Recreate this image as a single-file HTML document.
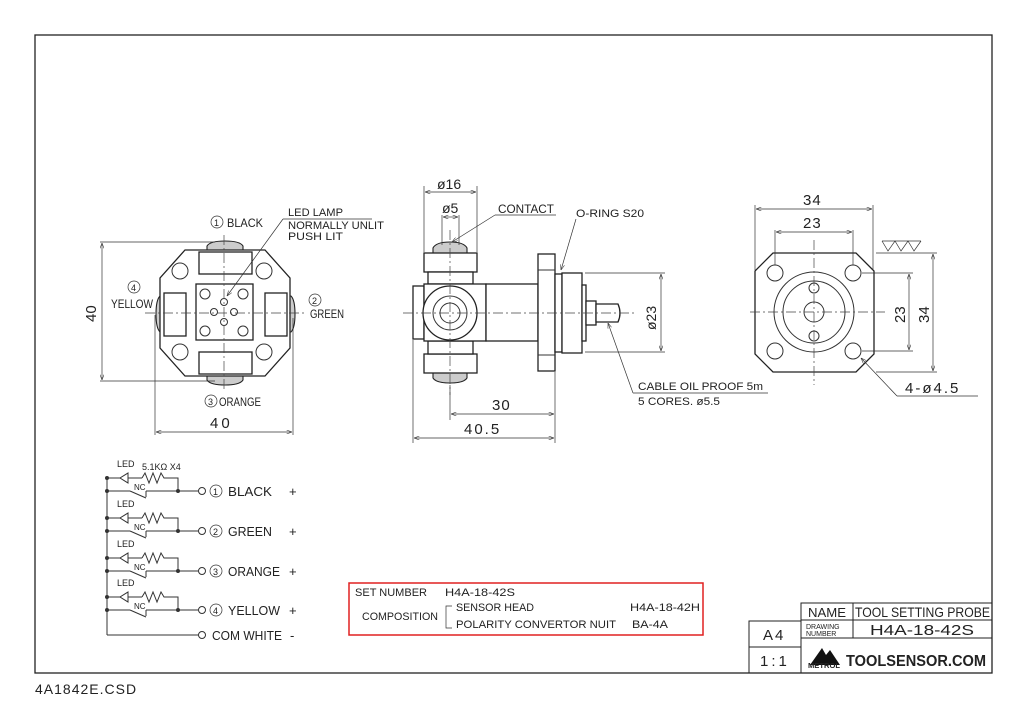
<!DOCTYPE html>
<html><head><meta charset="utf-8"><style>
html,body{margin:0;padding:0;background:#fff;}
svg{display:block;}
text{font-family:"Liberation Sans",sans-serif;fill:#222;}
.l{stroke:#333;stroke-width:1;fill:none;}
.t{stroke:#333;stroke-width:0.7;fill:none;}
.c{stroke:#444;stroke-width:0.7;fill:none;stroke-dasharray:10 3 2 3;}
.b{stroke:#222;stroke-width:1.3;fill:#fff;}
.g{stroke:#222;stroke-width:1.1;fill:#ccc;}
</style></head><body>
<svg width="1024" height="724" viewBox="0 0 1024 724" xmlns="http://www.w3.org/2000/svg">
<defs>
<marker id="a" markerWidth="8" markerHeight="6" refX="8" refY="3" orient="auto-start-reverse"><path d="M0,0 L8,3 L0,6" fill="none" stroke="#333" stroke-width="0.8"/></marker>
</defs>
<rect x="35" y="35" width="957" height="638" fill="none" stroke="#222" stroke-width="1.3"/>
<text x="35" y="694" font-size="14" letter-spacing="1">4A1842E.CSD</text>

<!-- LEFT VIEW -->
<g>
<path class="g" d="M207,251 L207,246 Q210,241 225,241 Q240,241 243,246 L243,251 Z"/>
<path class="g" d="M207,375 L207,380 Q210,385 225,385 Q240,385 243,380 L243,375 Z"/>
<path class="g" d="M164,296 L160,296 Q156,300 156,314 Q156,328 160,332 L164,332 Z"/>
<path class="g" d="M287,296 L291,296 Q295,300 295,314 Q295,328 291,332 L287,332 Z"/>
<path class="b" d="M185,250 L265,250 L290,278 L290,348 L265,376 L185,376 L160,348 L160,278 Z"/>
<rect class="b" x="199" y="252" width="53" height="22"/>
<rect class="b" x="199" y="352" width="53" height="22"/>
<rect class="b" x="164" y="293" width="22" height="43"/>
<rect class="b" x="265" y="293" width="22" height="43"/>
<rect class="b" x="196" y="284" width="57" height="56" stroke-width="2"/>
<circle class="l" cx="180" cy="271" r="8"/><circle class="l" cx="264" cy="271" r="8"/>
<circle class="l" cx="180" cy="352" r="8"/><circle class="l" cx="264" cy="352" r="8"/>
<circle class="l" cx="205" cy="294" r="5"/><circle class="l" cx="243" cy="294" r="5"/>
<circle class="l" cx="205" cy="331" r="5"/><circle class="l" cx="243" cy="331" r="5"/>
<circle class="l" cx="224" cy="302" r="3.5"/><circle class="l" cx="224" cy="322" r="3.5"/>
<circle class="l" cx="214" cy="312" r="3.5"/><circle class="l" cx="234" cy="312" r="3.5"/>
<line class="c" x1="145" y1="313" x2="305" y2="313"/>
<line class="c" x1="224" y1="235" x2="224" y2="392"/>
<line class="t" x1="100" y1="242" x2="215" y2="242"/>
<line class="t" x1="100" y1="381" x2="215" y2="381"/>
<line class="t" x1="102" y1="243" x2="102" y2="380" marker-start="url(#a)" marker-end="url(#a)"/>
<text x="0" y="0" font-size="15" transform="translate(96,322) rotate(-90)">40</text>
<line class="t" x1="155" y1="315" x2="155" y2="435"/>
<line class="t" x1="293" y1="318" x2="293" y2="435"/>
<line class="t" x1="156" y1="432" x2="292" y2="432" marker-start="url(#a)" marker-end="url(#a)"/>
<text x="210" y="428" font-size="15" letter-spacing="3">40</text>
<circle class="t" cx="217" cy="222" r="6"/><text x="214" y="226" font-size="9">1</text>
<text x="227" y="227" font-size="12" textLength="36" lengthAdjust="spacingAndGlyphs">BLACK</text>
<circle class="t" cx="134" cy="287" r="6"/><text x="131" y="291" font-size="9">4</text>
<text x="111" y="308" font-size="12" textLength="42" lengthAdjust="spacingAndGlyphs">YELLOW</text>
<circle class="t" cx="315" cy="300" r="6"/><text x="312" y="304" font-size="9">2</text>
<text x="310" y="318" font-size="12" textLength="34" lengthAdjust="spacingAndGlyphs">GREEN</text>
<circle class="t" cx="211" cy="401" r="6"/><text x="208" y="405" font-size="9">3</text>
<text x="219" y="406" font-size="12" textLength="42" lengthAdjust="spacingAndGlyphs">ORANGE</text>
<text x="288" y="216" font-size="11" textLength="55" lengthAdjust="spacingAndGlyphs">LED LAMP</text>
<line class="t" x1="283" y1="219" x2="372" y2="219"/>
<text x="288" y="229" font-size="11" textLength="96" lengthAdjust="spacingAndGlyphs">NORMALLY UNLIT</text>
<text x="288" y="240" font-size="11" textLength="55" lengthAdjust="spacingAndGlyphs">PUSH LIT</text>
<line class="t" x1="283" y1="219" x2="227" y2="296" marker-end="url(#a)"/>
</g>

<!-- MIDDLE VIEW -->
<g>
<path class="g" d="M433,253 L433,248 Q436,242 450,242 Q464,242 467,248 L467,253 Z"/>
<path class="g" d="M433,373 L433,378 Q436,383 450,383 Q464,383 467,378 L467,373 Z"/>
<rect class="b" x="413" y="286" width="11" height="53"/>
<rect class="b" x="424" y="253" width="53" height="19"/>
<rect class="b" x="428" y="272" width="45" height="12"/>
<rect class="b" x="424" y="354" width="53" height="19"/>
<rect class="b" x="428" y="341" width="45" height="13"/>
<rect class="b" x="424" y="284" width="62" height="57"/>
<circle class="b" cx="450" cy="313" r="27"/>
<circle class="l" cx="450" cy="313" r="17"/>
<circle class="l" cx="450" cy="313" r="10" stroke-width="2"/>
<rect class="b" x="486" y="284" width="52" height="57"/>
<rect class="b" x="538" y="254" width="17" height="117"/>
<line class="l" x1="538" y1="270" x2="555" y2="270"/><line class="l" x1="538" y1="355" x2="555" y2="355"/>
<rect class="b" x="555" y="274" width="7" height="78"/>
<rect class="b" x="562" y="273" width="20" height="80"/>
<rect class="b" x="582" y="285" width="4" height="56"/>
<rect class="b" x="586" y="301" width="10" height="24"/>
<path class="b" d="M596,304 L618,304 Q622,313 618,322 L596,322 Z"/>
<line class="c" x1="403" y1="313" x2="635" y2="313"/>
<line class="c" x1="450" y1="230" x2="450" y2="395"/>
<line class="t" x1="424" y1="186" x2="424" y2="252"/>
<line class="t" x1="477" y1="186" x2="477" y2="252"/>
<line class="t" x1="425" y1="192" x2="476" y2="192" marker-start="url(#a)" marker-end="url(#a)"/>
<text x="437" y="189" font-size="14">ø16</text>
<line class="t" x1="442" y1="215" x2="442" y2="245"/>
<line class="t" x1="459" y1="215" x2="459" y2="245"/>
<line class="t" x1="443" y1="217" x2="458" y2="217" marker-start="url(#a)" marker-end="url(#a)"/>
<text x="442" y="213" font-size="14">ø5</text>
<text x="498" y="213" font-size="12" textLength="56" lengthAdjust="spacingAndGlyphs">CONTACT</text>
<line class="t" x1="495" y1="215" x2="556" y2="215"/>
<line class="t" x1="495" y1="215" x2="452" y2="242" marker-end="url(#a)"/>
<text x="576" y="217" font-size="11" textLength="68" lengthAdjust="spacingAndGlyphs">O-RING S20</text>
<line class="t" x1="576" y1="219" x2="561" y2="270" marker-end="url(#a)"/>
<line class="t" x1="585" y1="273" x2="665" y2="273"/>
<line class="t" x1="585" y1="352" x2="665" y2="352"/>
<line class="t" x1="661" y1="274" x2="661" y2="351" marker-start="url(#a)" marker-end="url(#a)"/>
<text x="0" y="0" font-size="14" transform="translate(656,330) rotate(-90)">ø23</text>
<text x="638" y="390" font-size="11" textLength="125" lengthAdjust="spacingAndGlyphs">CABLE OIL PROOF 5m</text>
<line class="t" x1="633" y1="393" x2="768" y2="393"/>
<line class="t" x1="633" y1="393" x2="608" y2="323" marker-end="url(#a)"/>
<text x="638" y="405" font-size="11" textLength="82" lengthAdjust="spacingAndGlyphs">5 CORES. ø5.5</text>
<line class="t" x1="450" y1="385" x2="450" y2="420"/>
<line class="t" x1="555" y1="372" x2="555" y2="443"/>
<line class="t" x1="413" y1="340" x2="413" y2="443"/>
<line class="t" x1="451" y1="414" x2="554" y2="414" marker-start="url(#a)" marker-end="url(#a)"/>
<text x="492" y="410" font-size="15" letter-spacing="1">30</text>
<line class="t" x1="414" y1="438" x2="554" y2="438" marker-start="url(#a)" marker-end="url(#a)"/>
<text x="464" y="434" font-size="15" letter-spacing="2">40.5</text>
</g>

<!-- RIGHT VIEW -->
<g>
<path class="b" d="M773,253 L856,253 L874,271 L874,354 L856,372 L773,372 L755,354 L755,271 Z"/>
<circle class="l" cx="814" cy="312" r="40"/>
<circle class="l" cx="814" cy="312" r="31"/>
<circle class="l" cx="814" cy="312" r="10" stroke-width="1.6"/>
<circle class="l" cx="814" cy="288" r="5"/><circle class="l" cx="814" cy="336" r="5"/>
<circle class="l" cx="775" cy="273" r="8"/><circle class="l" cx="853" cy="273" r="8"/>
<circle class="l" cx="775" cy="351" r="8"/><circle class="l" cx="853" cy="351" r="8"/>
<line class="c" x1="750" y1="312" x2="885" y2="312"/>
<line class="c" x1="814" y1="240" x2="814" y2="385"/>
<line class="t" x1="755" y1="205" x2="755" y2="270"/>
<line class="t" x1="873" y1="205" x2="873" y2="270"/>
<line class="t" x1="756" y1="209" x2="872" y2="209" marker-start="url(#a)" marker-end="url(#a)"/>
<text x="803" y="205" font-size="15" letter-spacing="1">34</text>
<line class="t" x1="775" y1="230" x2="775" y2="265"/>
<line class="t" x1="853" y1="230" x2="853" y2="265"/>
<line class="t" x1="776" y1="232" x2="852" y2="232" marker-start="url(#a)" marker-end="url(#a)"/>
<text x="803" y="228" font-size="15" letter-spacing="1">23</text>
<path d="M882,241 L921,241 M882,241 L888,251 L895,241 L901,251 L908,241 L914,251 L921,241" class="t" stroke-width="1"/>
<line class="t" x1="876" y1="253" x2="937" y2="253"/>
<line class="t" x1="876" y1="372" x2="937" y2="372"/>
<line class="t" x1="933" y1="254" x2="933" y2="371" marker-start="url(#a)" marker-end="url(#a)"/>
<text x="0" y="0" font-size="15" transform="translate(929,323) rotate(-90)">34</text>
<line class="t" x1="862" y1="273" x2="913" y2="273"/>
<line class="t" x1="862" y1="351" x2="913" y2="351"/>
<line class="t" x1="909" y1="274" x2="909" y2="350" marker-start="url(#a)" marker-end="url(#a)"/>
<text x="0" y="0" font-size="15" transform="translate(905,323) rotate(-90)">23</text>
<line class="t" x1="897" y1="396" x2="978" y2="396"/>
<line class="t" x1="897" y1="396" x2="861" y2="358" marker-end="url(#a)"/>
<text x="905" y="393" font-size="15" letter-spacing="2">4-ø4.5</text>
</g>

<!-- CIRCUIT -->
<g stroke="#333" stroke-width="1" fill="none">
<line x1="107" y1="478" x2="107" y2="635"/>
<line x1="107" y1="635" x2="198" y2="635"/>
<circle cx="202" cy="635" r="3.5"/>
<g id="row">
<line x1="107" y1="478" x2="120" y2="478"/>
<path d="M120,473 L120,483 L112,478 Z" transform="translate(8,0)"/>
<line x1="128" y1="478" x2="142" y2="478"/>
<path d="M142,478 l3,-5 l4,10 l4,-10 l4,10 l4,-10 l3,5 L178,478 L178,491"/>
<line x1="107" y1="491" x2="130" y2="491"/>
<line x1="130" y1="491" x2="146" y2="498"/>
<line x1="146" y1="491" x2="146" y2="497"/>
<line x1="146" y1="491" x2="198" y2="491"/>
<circle cx="202" cy="491" r="3.5"/>
<circle cx="178" cy="491" r="1.5" fill="#333"/><circle cx="107" cy="491" r="1.5" fill="#333"/><circle cx="107" cy="478" r="1.5" fill="#333"/>
</g>
<use href="#row" y="40"/>
<use href="#row" y="80"/>
<use href="#row" y="119"/>
</g>
<g font-size="13">
<text x="117" y="467" font-size="9">LED</text><text x="142" y="470" font-size="9">5.1KΩ X4</text>
<text x="134" y="490" font-size="8">NC</text>
<text x="117" y="507" font-size="9">LED</text><text x="134" y="530" font-size="8">NC</text>
<text x="117" y="547" font-size="9">LED</text><text x="134" y="570" font-size="8">NC</text>
<text x="117" y="586" font-size="9">LED</text><text x="134" y="609" font-size="8">NC</text>
<circle cx="216" cy="491" r="6" class="t"/><text x="213" y="495" font-size="9">1</text><text x="228" y="496" textLength="44" lengthAdjust="spacingAndGlyphs">BLACK</text><text x="289" y="496">+</text>
<circle cx="216" cy="531" r="6" class="t"/><text x="213" y="535" font-size="9">2</text><text x="228" y="536" textLength="44" lengthAdjust="spacingAndGlyphs">GREEN</text><text x="289" y="536">+</text>
<circle cx="216" cy="571" r="6" class="t"/><text x="213" y="575" font-size="9">3</text><text x="228" y="576" textLength="52" lengthAdjust="spacingAndGlyphs">ORANGE</text><text x="289" y="576">+</text>
<circle cx="216" cy="610" r="6" class="t"/><text x="213" y="614" font-size="9">4</text><text x="228" y="615" textLength="52" lengthAdjust="spacingAndGlyphs">YELLOW</text><text x="289" y="615">+</text>
<text x="212" y="640" textLength="70" lengthAdjust="spacingAndGlyphs">COM WHITE</text><text x="290" y="640">-</text>
</g>

<!-- SET NUMBER BOX -->
<rect x="349" y="583" width="354" height="52" fill="none" stroke="#e02020" stroke-width="1.5"/>
<g font-size="11">
<text x="355" y="596" textLength="72" lengthAdjust="spacingAndGlyphs">SET NUMBER</text><text x="445" y="596" textLength="70" lengthAdjust="spacingAndGlyphs">H4A-18-42S</text>
<text x="362" y="620" textLength="76" lengthAdjust="spacingAndGlyphs">COMPOSITION</text>
<path d="M452,606 L446,606 L446,628 L452,628" class="t"/>
<text x="456" y="611" textLength="78" lengthAdjust="spacingAndGlyphs">SENSOR HEAD</text><text x="630" y="611" textLength="70" lengthAdjust="spacingAndGlyphs">H4A-18-42H</text>
<text x="456" y="628" textLength="160" lengthAdjust="spacingAndGlyphs">POLARITY CONVERTOR NUIT</text><text x="632" y="628" textLength="36" lengthAdjust="spacingAndGlyphs">BA-4A</text>
</g>

<!-- TITLE BLOCK -->
<g stroke="#222" stroke-width="1" fill="none">
<path d="M801,673 L801,603 L992,603"/>
<line x1="853" y1="603" x2="853" y2="638"/>
<line x1="801" y1="620" x2="992" y2="620"/>
<line x1="801" y1="638" x2="992" y2="638"/>
<path d="M749,673 L749,621 L801,621"/>
<line x1="749" y1="647" x2="801" y2="647"/>
</g>
<text x="808" y="617" font-size="13" textLength="38" lengthAdjust="spacingAndGlyphs">NAME</text>
<text x="855" y="617" font-size="14" textLength="135" lengthAdjust="spacingAndGlyphs">TOOL SETTING PROBE</text>
<text x="806" y="629" font-size="7">DRAWING</text><text x="806" y="636" font-size="7">NUMBER</text>
<text x="870" y="635" font-size="15" textLength="104" lengthAdjust="spacingAndGlyphs">H4A-18-42S</text>
<text x="763" y="640" font-size="15" letter-spacing="2">A4</text>
<text x="760" y="666" font-size="15" letter-spacing="3">1:1</text>
<path d="M810,665 L822,648 L826,655 L830,650 L840,665 Z" fill="#111"/>
<text x="808" y="668" font-size="7" font-weight="bold" textLength="32" lengthAdjust="spacingAndGlyphs">METROL</text>
<text x="846" y="666" font-size="16" font-weight="bold" fill="#111" textLength="140" lengthAdjust="spacingAndGlyphs">TOOLSENSOR.COM</text>
</svg>
</body></html>
